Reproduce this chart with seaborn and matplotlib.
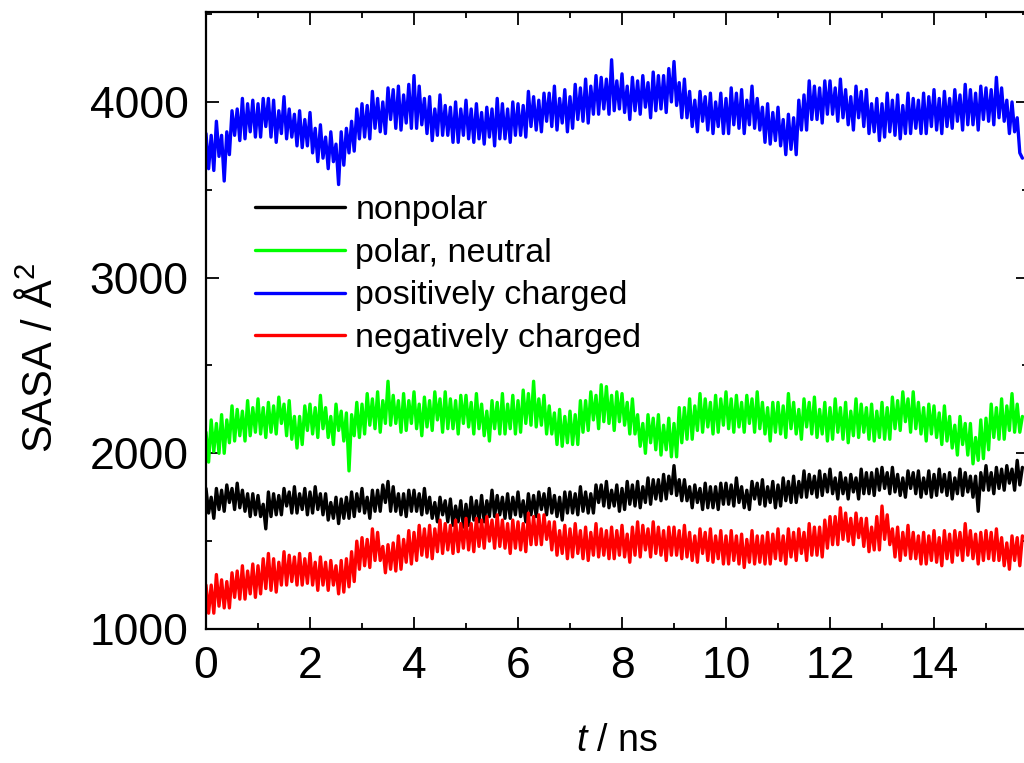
import numpy as np
import pandas as pd
import matplotlib
matplotlib.use("Agg")
import matplotlib.pyplot as plt
import seaborn as sns

# ---- data (SASA in Å^2, sampled every 0.05 ns, rows = 1 ns) ----
dt_ns = 0.05

nonpolar = [
    1800, 1660, 1750, 1630, 1800, 1680, 1790, 1670, 1820, 1720, 1800, 1680, 1830, 1690, 1790, 1670, 1770, 1640, 1770, 1650,
    1760, 1640, 1710, 1570, 1780, 1640, 1770, 1650, 1760, 1650, 1800, 1700, 1780, 1660, 1810, 1660, 1770, 1680, 1800, 1650,
    1780, 1660, 1810, 1680, 1770, 1650, 1770, 1620, 1720, 1630, 1750, 1600, 1740, 1630, 1750, 1630, 1780, 1640, 1770, 1670,
    1800, 1660, 1750, 1630, 1790, 1670, 1790, 1670, 1820, 1720, 1840, 1670, 1810, 1670, 1770, 1650, 1770, 1640, 1790, 1670,
    1790, 1670, 1770, 1650, 1800, 1660, 1750, 1630, 1720, 1610, 1750, 1650, 1730, 1610, 1740, 1590, 1700, 1610, 1730, 1580,
    1710, 1590, 1750, 1620, 1730, 1610, 1760, 1610, 1730, 1640, 1790, 1640, 1760, 1650, 1750, 1630, 1770, 1630, 1750, 1650,
    1780, 1640, 1730, 1610, 1770, 1650, 1760, 1640, 1780, 1680, 1770, 1650, 1800, 1660, 1760, 1640, 1750, 1620, 1780, 1660,
    1780, 1660, 1770, 1650, 1810, 1670, 1780, 1660, 1770, 1660, 1820, 1720, 1820, 1700, 1840, 1690, 1790, 1700, 1820, 1670,
    1800, 1680, 1840, 1710, 1820, 1700, 1840, 1690, 1810, 1720, 1860, 1710, 1850, 1740, 1850, 1730, 1880, 1740, 1870, 1770,
    1930, 1760, 1850, 1730, 1850, 1730, 1810, 1690, 1820, 1720, 1800, 1680, 1830, 1690, 1810, 1690, 1810, 1680, 1830, 1710,
    1830, 1710, 1820, 1700, 1860, 1720, 1810, 1690, 1790, 1680, 1840, 1740, 1830, 1710, 1850, 1700, 1810, 1720, 1840, 1690,
    1820, 1700, 1860, 1730, 1840, 1720, 1870, 1720, 1840, 1750, 1900, 1750, 1880, 1770, 1870, 1750, 1900, 1760, 1880, 1780,
    1910, 1770, 1860, 1740, 1890, 1770, 1860, 1740, 1880, 1780, 1860, 1740, 1910, 1770, 1890, 1770, 1890, 1760, 1910, 1790,
    1920, 1800, 1890, 1770, 1920, 1780, 1880, 1760, 1860, 1750, 1900, 1800, 1890, 1770, 1900, 1750, 1860, 1770, 1900, 1750,
    1880, 1760, 1910, 1780, 1880, 1760, 1890, 1740, 1860, 1770, 1910, 1760, 1890, 1780, 1870, 1750, 1870, 1670, 1890, 1790,
    1930, 1790, 1890, 1770, 1920, 1800, 1910, 1790, 1930, 1830, 1910, 1790, 1960, 1820, 1920,
]

polar_neutral = [
    2120, 1950, 2190, 2010, 2170, 2000, 2220, 2000, 2190, 2060, 2270, 2070, 2250, 2100, 2240, 2070, 2300, 2100, 2260, 2120,
    2310, 2110, 2260, 2090, 2290, 2120, 2270, 2110, 2320, 2170, 2280, 2100, 2300, 2080, 2210, 2030, 2210, 2050, 2270, 2130,
    2280, 2110, 2260, 2090, 2330, 2140, 2260, 2090, 2210, 2050, 2280, 2130, 2240, 2070, 2230, 1900, 2220, 2100, 2290, 2090,
    2280, 2110, 2340, 2160, 2310, 2140, 2350, 2120, 2300, 2170, 2410, 2160, 2330, 2170, 2300, 2120, 2340, 2130, 2300, 2170,
    2350, 2140, 2280, 2100, 2320, 2150, 2300, 2130, 2350, 2190, 2310, 2120, 2350, 2140, 2310, 2140, 2300, 2110, 2330, 2170,
    2330, 2150, 2290, 2110, 2340, 2140, 2280, 2100, 2240, 2070, 2300, 2140, 2290, 2110, 2340, 2110, 2280, 2140, 2330, 2110,
    2300, 2120, 2360, 2170, 2340, 2160, 2410, 2150, 2310, 2160, 2330, 2110, 2270, 2110, 2230, 2050, 2250, 2040, 2210, 2060,
    2240, 2050, 2220, 2050, 2300, 2120, 2300, 2130, 2350, 2190, 2330, 2140, 2390, 2180, 2380, 2170, 2330, 2130, 2350, 2180,
    2340, 2160, 2290, 2110, 2310, 2110, 2220, 2040, 2170, 2000, 2220, 2060, 2200, 2020, 2220, 1990, 2160, 2020, 2200, 1980,
    2170, 1980, 2260, 2060, 2260, 2080, 2310, 2080, 2270, 2130, 2340, 2120, 2310, 2150, 2290, 2110, 2330, 2120, 2310, 2160,
    2350, 2140, 2310, 2120, 2330, 2150, 2290, 2120, 2330, 2170, 2310, 2120, 2350, 2140, 2290, 2110, 2260, 2070, 2290, 2120,
    2290, 2110, 2270, 2090, 2340, 2140, 2290, 2110, 2250, 2080, 2310, 2150, 2290, 2110, 2320, 2090, 2250, 2110, 2290, 2070,
    2260, 2080, 2310, 2120, 2260, 2080, 2290, 2060, 2240, 2100, 2310, 2090, 2280, 2120, 2260, 2080, 2280, 2070, 2240, 2090,
    2290, 2080, 2260, 2080, 2320, 2140, 2300, 2130, 2350, 2180, 2310, 2120, 2350, 2140, 2290, 2110, 2260, 2070, 2280, 2110,
    2270, 2090, 2230, 2050, 2270, 2070, 2210, 2030, 2160, 1990, 2210, 2050, 2170, 1990, 2170, 1940, 2090, 1960, 2190, 1970,
    2200, 2020, 2280, 2090, 2260, 2080, 2310, 2080, 2270, 2130, 2340, 2120, 2280, 2120, 2210,
]

positively_charged = [
    3820, 3620, 3810, 3610, 3890, 3690, 3810, 3550, 3830, 3700, 3950, 3810, 3960, 3780, 4020, 3790, 3990, 3830, 4010, 3800,
    3990, 3800, 4020, 3860, 4020, 3800, 4010, 3770, 3950, 3820, 4030, 3790, 3960, 3800, 3930, 3750, 3950, 3740, 3900, 3750,
    3940, 3710, 3850, 3660, 3870, 3680, 3800, 3620, 3830, 3660, 3760, 3530, 3830, 3640, 3850, 3710, 3890, 3720, 3960, 3790,
    3990, 3800, 3980, 3790, 4060, 3850, 4020, 3830, 4000, 3820, 4080, 3900, 4070, 3850, 4090, 3840, 4040, 3880, 4100, 3850,
    4150, 3850, 4090, 3870, 4020, 3820, 4030, 3780, 3960, 3810, 4040, 3810, 3980, 3810, 3970, 3770, 4000, 3770, 3960, 3810,
    4010, 3790, 3960, 3770, 3990, 3790, 3940, 3760, 3970, 3800, 3960, 3750, 4020, 3790, 3990, 3790, 3960, 3770, 4000, 3810,
    3990, 3810, 3980, 3800, 4060, 3860, 4030, 3840, 4010, 3830, 4050, 3890, 4050, 3860, 4090, 3840, 4020, 3880, 4070, 3830,
    4030, 3850, 4100, 3900, 4080, 3890, 4130, 3880, 4090, 3930, 4150, 3930, 4140, 3960, 4130, 3930, 4240, 3950, 4120, 3960,
    4160, 3940, 4090, 3900, 4140, 3950, 4120, 3930, 4150, 3970, 4110, 3910, 4170, 3950, 4150, 3960, 4150, 3940, 4190, 4000,
    4230, 3980, 4110, 3910, 4130, 3910, 4060, 3860, 4010, 3830, 4060, 3890, 4030, 3840, 4050, 3820, 4000, 3860, 4050, 3820,
    4020, 3820, 4080, 3870, 4050, 3850, 4070, 3820, 4010, 3870, 4090, 3850, 4020, 3840, 3970, 3770, 3990, 3760, 3940, 3780,
    3970, 3750, 3900, 3700, 3930, 3730, 3910, 3700, 4010, 3840, 4040, 3840, 4120, 3900, 4090, 3900, 4080, 3880, 4120, 3930,
    4120, 3930, 4080, 3890, 4130, 3910, 4070, 3870, 4030, 3840, 4090, 3910, 4060, 3860, 4070, 3820, 3990, 3830, 4020, 3780,
    3990, 3800, 4050, 3830, 4010, 3810, 4040, 3790, 3980, 3820, 4050, 3820, 4020, 3850, 4010, 3820, 4050, 3820, 4030, 3860,
    4070, 3840, 4020, 3820, 4060, 3860, 4020, 3850, 4070, 3890, 4040, 3840, 4100, 3870, 4070, 3870, 4050, 3840, 4090, 3900,
    4080, 3890, 4070, 3870, 4140, 3910, 4080, 3890, 4010, 3820, 4000, 3830, 3910, 3710, 3680,
]

negatively_charged = [
    1250, 1090, 1250, 1090, 1310, 1130, 1280, 1120, 1270, 1120, 1320, 1180, 1330, 1170, 1360, 1170, 1330, 1200, 1370, 1180,
    1360, 1200, 1400, 1230, 1430, 1220, 1400, 1210, 1380, 1250, 1440, 1250, 1420, 1270, 1410, 1250, 1430, 1250, 1400, 1260,
    1430, 1250, 1380, 1220, 1410, 1250, 1380, 1220, 1390, 1250, 1360, 1200, 1390, 1210, 1400, 1240, 1440, 1270, 1500, 1340,
    1520, 1360, 1510, 1350, 1570, 1390, 1550, 1390, 1470, 1320, 1480, 1340, 1490, 1330, 1530, 1340, 1510, 1380, 1560, 1370,
    1550, 1390, 1590, 1420, 1570, 1410, 1590, 1400, 1570, 1440, 1620, 1430, 1600, 1450, 1590, 1430, 1620, 1440, 1600, 1460,
    1630, 1450, 1600, 1440, 1630, 1470, 1620, 1460, 1640, 1500, 1620, 1460, 1650, 1470, 1620, 1460, 1600, 1430, 1620, 1460,
    1610, 1450, 1600, 1440, 1660, 1480, 1640, 1480, 1650, 1480, 1650, 1510, 1610, 1450, 1610, 1420, 1560, 1430, 1590, 1400,
    1570, 1410, 1600, 1430, 1560, 1400, 1580, 1390, 1550, 1420, 1600, 1410, 1570, 1420, 1560, 1400, 1580, 1400, 1560, 1420,
    1590, 1410, 1540, 1380, 1580, 1420, 1610, 1410, 1590, 1450, 1570, 1410, 1610, 1430, 1580, 1420, 1560, 1390, 1580, 1420,
    1580, 1420, 1560, 1400, 1590, 1410, 1550, 1390, 1530, 1380, 1570, 1430, 1550, 1390, 1570, 1380, 1530, 1400, 1560, 1370,
    1530, 1370, 1560, 1390, 1530, 1370, 1540, 1350, 1510, 1380, 1560, 1370, 1530, 1380, 1530, 1370, 1550, 1370, 1540, 1400,
    1570, 1390, 1530, 1370, 1570, 1410, 1550, 1390, 1570, 1430, 1550, 1390, 1600, 1420, 1580, 1420, 1580, 1410, 1620, 1460,
    1640, 1480, 1640, 1480, 1690, 1510, 1660, 1500, 1630, 1480, 1660, 1520, 1630, 1470, 1630, 1440, 1580, 1450, 1640, 1450,
    1700, 1510, 1650, 1480, 1570, 1410, 1580, 1390, 1550, 1420, 1590, 1400, 1550, 1400, 1530, 1370, 1550, 1370, 1530, 1390,
    1560, 1380, 1520, 1360, 1560, 1400, 1540, 1380, 1560, 1420, 1550, 1390, 1600, 1420, 1560, 1400, 1540, 1370, 1550, 1390,
    1560, 1400, 1550, 1390, 1570, 1390, 1520, 1360, 1490, 1340, 1530, 1390, 1520, 1360, 1530,
]

series_names = ["nonpolar", "polar, neutral", "positively charged", "negatively charged"]
series_colors = ["#000000", "#00ff00", "#0000ff", "#ff0000"]
x_ticks = [0, 2, 4, 6, 8, 10, 12, 14]
y_ticks = [1000, 2000, 3000, 4000]

# ---- build long-form table ----
frames = []
for name, vals in zip(series_names,
                      [nonpolar, polar_neutral, positively_charged, negatively_charged]):
    t = np.arange(len(vals)) * dt_ns
    frames.append(pd.DataFrame({"t": t, "sasa": vals, "group": name}))
df = pd.concat(frames, ignore_index=True)

# ---- style ----
sns.set_style("ticks")
plt.rcParams["font.family"] = ["Liberation Sans", "DejaVu Sans"]
plt.rcParams["mathtext.fontset"] = "custom"
plt.rcParams["mathtext.rm"] = "Liberation Sans"
plt.rcParams["mathtext.it"] = "Liberation Sans:italic"
for k in ["text.color", "axes.labelcolor", "xtick.color", "ytick.color", "axes.edgecolor"]:
    plt.rcParams[k] = "black"

fig = plt.figure(figsize=(10.24, 7.63), dpi=100)
ax = fig.add_axes([206 / 1024, 134 / 763, 822 / 1024, 617 / 763])

sns.lineplot(data=df, x="t", y="sasa", hue="group", hue_order=series_names,
             palette=dict(zip(series_names, series_colors)),
             estimator=None, sort=False, linewidth=2.4, ax=ax, legend=True)

ax.set_xlim(0, 822 / 52)
ax.set_ylim(1000, 4512)
ax.set_xticks(x_ticks)
ax.set_yticks(y_ticks)
ax.xaxis.set_minor_locator(matplotlib.ticker.MultipleLocator(1))
ax.yaxis.set_minor_locator(matplotlib.ticker.MultipleLocator(500))
ax.tick_params(which="both", direction="in", top=True, right=True, width=1.3, color="black")
ax.tick_params(which="major", length=9, labelsize=32)
ax.tick_params(axis="x", which="major", pad=12.5)
ax.tick_params(axis="y", which="major", pad=12.5)
ax.tick_params(which="minor", length=4.5)
for s in ax.spines.values():
    s.set_linewidth(1.6)
    s.set_color("black")
    s.set_visible(True)

ax.set_xlabel("$t$ / ns", fontsize=27)
ax.xaxis.set_label_coords(0.5, -0.152)
ax.set_ylabel("SASA / Å$^2$", fontsize=30)
ax.yaxis.set_label_coords(-0.176, 0.44)

handles, labels = ax.get_legend_handles_labels()
for h in handles:
    h.set_linewidth(2.4)
ax.legend(handles, labels, loc="upper left", bbox_to_anchor=(0.0596, 0.704),
          frameon=False, fontsize=24.5, handlelength=2.65, handletextpad=0.3,
          labelspacing=0.35, borderpad=0, borderaxespad=0)

fig.savefig("out.png", dpi=100)
